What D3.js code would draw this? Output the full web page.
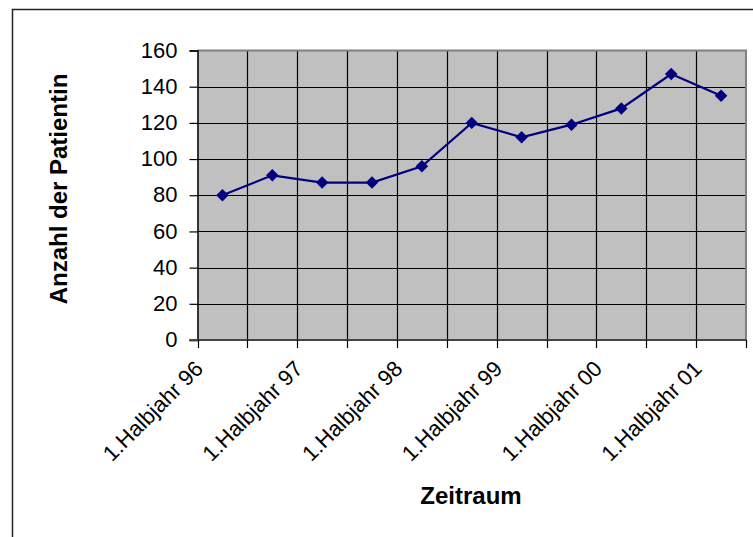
<!DOCTYPE html>
<html>
<head>
<meta charset="utf-8">
<script src="https://cdn.jsdelivr.net/npm/d3@7"></script>
<style>
  html, body { margin: 0; padding: 0; background: #fff; }
  svg { display: block; font-family: Arial, "Liberation Sans", sans-serif; }
</style>
</head>
<body>
<svg id="chart" width="753" height="537"></svg>
<script>
const categories = [
  "1.Halbjahr 96", "2.Halbjahr 96", "1.Halbjahr 97", "2.Halbjahr 97",
  "1.Halbjahr 98", "2.Halbjahr 98", "1.Halbjahr 99", "2.Halbjahr 99",
  "1.Halbjahr 00", "2.Halbjahr 00", "1.Halbjahr 01"
];
const patients = [80, 91, 87, 87, 96, 120, 112, 119, 128, 147, 135];
const yTicks = [0, 20, 40, 60, 80, 100, 120, 140, 160];
const yTitle = "Anzahl der Patientin";
const xTitle = "Zeitraum";

const svg = d3.select("#chart");
const plot = { left: 197.5, right: 746, top: 50.5, bottom: 340 };

// outer chart frame (extends beyond right and bottom)
svg.append("path")
  .attr("d", "M12.5,540 L12.5,9.5 L760,9.5")
  .attr("fill", "none").attr("stroke", "#222").attr("stroke-width", 1.5);

const x = d3.scaleBand().domain(d3.range(categories.length))
  .range([plot.left, plot.right]).padding(0);
const y = d3.scaleLinear().domain([0, 160]).range([plot.bottom, plot.top]);

// plot background
svg.append("rect")
  .attr("x", plot.left).attr("y", plot.top)
  .attr("width", plot.right - plot.left).attr("height", plot.bottom - plot.top)
  .attr("fill", "#C0C0C0");

// horizontal gridlines
svg.append("g").selectAll("line").data(yTicks.filter(t => t > 0 && t < 160)).join("line")
  .attr("x1", plot.left).attr("x2", plot.right)
  .attr("y1", d => Math.round(y(d)) + 0.5).attr("y2", d => Math.round(y(d)) + 0.5)
  .attr("stroke", "#000").attr("stroke-width", 1.2);

// vertical gridlines at category boundaries
const bounds = d3.range(1, categories.length).map(i => x(i));
svg.append("g").selectAll("line").data(bounds).join("line")
  .attr("x1", d => Math.round(d) + 0.5).attr("x2", d => Math.round(d) + 0.5)
  .attr("y1", plot.top).attr("y2", plot.bottom)
  .attr("stroke", "#000").attr("stroke-width", 1.2);

// plot border top/right
svg.append("path")
  .attr("d", `M${plot.left},${plot.top} L${plot.right},${plot.top} L${plot.right},${plot.bottom}`)
  .attr("fill", "none").attr("stroke", "#808080").attr("stroke-width", 2);

// y axis
const yAxis = d3.axisLeft(y).tickValues(yTicks).tickSize(8).tickPadding(12);
const gy = svg.append("g").attr("transform", `translate(${plot.left},0)`).call(yAxis);
gy.select(".domain").attr("stroke", "#000").attr("stroke-width", 1.5);
gy.selectAll(".tick line").attr("stroke", "#000").attr("stroke-width", 1.2);
gy.selectAll(".tick text").attr("font-size", 22).attr("fill", "#000")
  .attr("font-family", "Arial, 'Liberation Sans', sans-serif").attr("dy", "0.3em");

// x axis: ticks at category boundaries
const allBounds = d3.range(0, categories.length + 1).map(i => plot.left + i * x.bandwidth());
const gx = svg.append("g");
gx.append("line")
  .attr("x1", plot.left - 8).attr("x2", plot.right)
  .attr("y1", plot.bottom).attr("y2", plot.bottom)
  .attr("stroke", "#444").attr("stroke-width", 2.2);
gx.selectAll("line.tk").data(allBounds).join("line").attr("class", "tk")
  .attr("x1", d => Math.round(d) + 0.5).attr("x2", d => Math.round(d) + 0.5)
  .attr("y1", plot.bottom).attr("y2", plot.bottom + 8)
  .attr("stroke", "#000").attr("stroke-width", 1.2);

// rotated category labels (every second)
gx.selectAll("text").data(categories.map((c, i) => ({ c, i })).filter(d => d.i % 2 === 0)).join("text")
  .attr("transform", d => `translate(${x(d.i) + x.bandwidth() / 2 - 18},${plot.bottom + 30}) rotate(-45)`)
  .attr("text-anchor", "end")
  .attr("font-size", 22).attr("fill", "#000")
  .text(d => d.c);

// line
const line = d3.line().x((d, i) => x(i) + x.bandwidth() / 2).y(d => y(d));
svg.append("path").datum(patients)
  .attr("d", line).attr("fill", "none")
  .attr("stroke", "#000080").attr("stroke-width", 2.2);

// diamond markers
svg.append("g").selectAll("path").data(patients).join("path")
  .attr("d", d3.symbol().type(d3.symbolSquare).size(78))
  .attr("transform", (d, i) => `translate(${x(i) + x.bandwidth() / 2},${y(d)}) rotate(45)`)
  .attr("fill", "#000080");

// axis titles
svg.append("text")
  .attr("transform", `translate(67,189) rotate(-90)`)
  .attr("text-anchor", "middle").attr("font-weight", "bold").attr("font-size", 24)
  .attr("fill", "#000").text(yTitle);
svg.append("text")
  .attr("x", 471).attr("y", 504)
  .attr("text-anchor", "middle").attr("font-weight", "bold").attr("font-size", 24)
  .attr("fill", "#000").text(xTitle);
</script>
</body>
</html>
